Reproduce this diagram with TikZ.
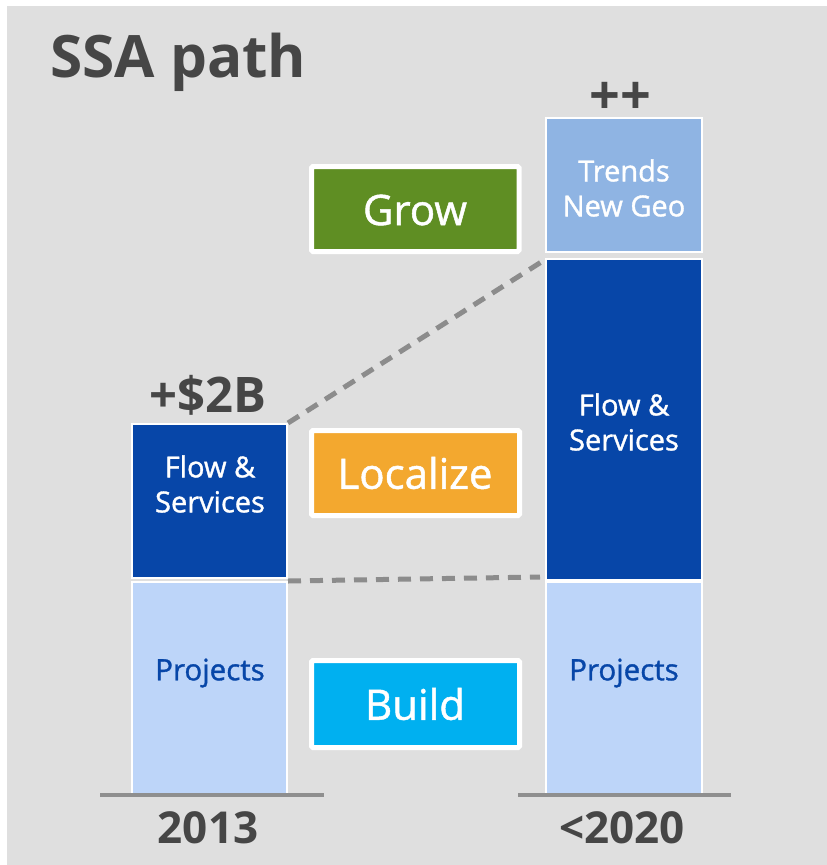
\documentclass[tikz,border=0pt]{standalone}
\usepackage{fontspec}
\setmainfont{Open Sans}
% slightly emboldened upright for labels inside the bars and boxes
\newfontface\labelface{Open Sans}[FakeBold=1.2]
\definecolor{bggray}{HTML}{DFDFDF}
\definecolor{titlegray}{HTML}{464646}
\definecolor{darkblue}{HTML}{0746A8}
\definecolor{lightblue}{HTML}{BDD5F9}
\definecolor{midblue}{HTML}{8FB4E3}
\definecolor{growgreen}{HTML}{5F8E23}
\definecolor{localorange}{HTML}{F3A82F}
\definecolor{buildcyan}{HTML}{00B0F0}
\definecolor{dashgray}{HTML}{8C8C8C}
\definecolor{axisgray}{HTML}{8F8F8F}
\tikzset{
  seg/.style={draw=white, line width=1.6pt},
  stage/.style={draw=white, line width=5pt, rounded corners=1.5pt},
  whitelabel/.style={text=white, align=center, font=\labelface\fontsize{29}{35}\selectfont},
  bluelabel/.style={text=darkblue, font=\labelface\fontsize{29.5}{34}\selectfont},
  stagelabel/.style={text=white, font=\labelface\fontsize{42}{48}\selectfont},
  bigtext/.style={text=titlegray, font=\bfseries\fontsize{44}{52}\selectfont},
  guide/.style={dashgray, line width=5pt, dash pattern=on 13pt off 9pt},
  axis/.style={axisgray, line width=4pt}
}
\begin{document}
\begin{tikzpicture}[x=1pt,y=-1pt]
  \useasboundingbox (0,0) rectangle (827,865);
  \fill[bggray] (7,6) rectangle (827,865);

  % title
  \node[anchor=base west, text=titlegray, font=\bfseries\fontsize{58.5}{66}\selectfont, inner sep=0pt] (title) at (50,77) {SSA path};

  % 2013 stack
  \path[seg, fill=lightblue] (132,582) rectangle (287,795);
  \path[seg, fill=darkblue] (132,424) rectangle (287,578);
  \node[bluelabel] (projA) at (210,673) {Projects};
  \node[whitelabel] (flowA) at (210,484) {Flow \&\\Services};

  % <2020 stack
  \path[seg, fill=lightblue] (546,582) rectangle (702,795);
  \path[seg, fill=darkblue] (546,259) rectangle (702,580);
  \path[seg, fill=midblue] (546,118) rectangle (702,252);
  \node[bluelabel] (projB) at (624,673) {Projects};
  \node[whitelabel] (flowB) at (624,422) {Flow \&\\Services};
  \node[whitelabel] (trends) at (624,188) {Trends\\New Geo};

  % guide lines between the stacks
  \coordinate (aTop) at (288,423);
  \coordinate (bTop) at (546,259);
  \coordinate (aMid) at (288,581);
  \coordinate (bMid) at (540,577);
  \draw[guide] (aTop) -- (bTop);
  \draw[guide] (aMid) -- (bMid);

  % stage boxes
  \path[stage, fill=growgreen] (311.5,166.5) rectangle (519,251.5);
  \node[stagelabel] (grow) at (415,210) {Grow};
  \path[stage, fill=localorange] (311.5,430.5) rectangle (519.5,515.5);
  \node[stagelabel] (localize) at (415,473) {Localize};
  \path[stage, fill=buildcyan] (311.5,660.5) rectangle (519.5,747.5);
  \node[stagelabel] (build) at (415,704) {Build};

  % totals above the stacks
  \node[bigtext, font=\bfseries\fontsize{49}{58}\selectfont] (plusA) at (208,395) {+\$2B};
  \node[bigtext, font=\bfseries\fontsize{54}{60}\selectfont] (plusB) at (620,98) {++};

  % axes and years
  \draw[axis] (100,795) -- (324,795);
  \draw[axis] (518,795) -- (731,795);
  \node[bigtext] (yearA) at (208,828) {2013};
  \node[bigtext] (yearB) at (622,828) {<2020};
\end{tikzpicture}
\end{document}
